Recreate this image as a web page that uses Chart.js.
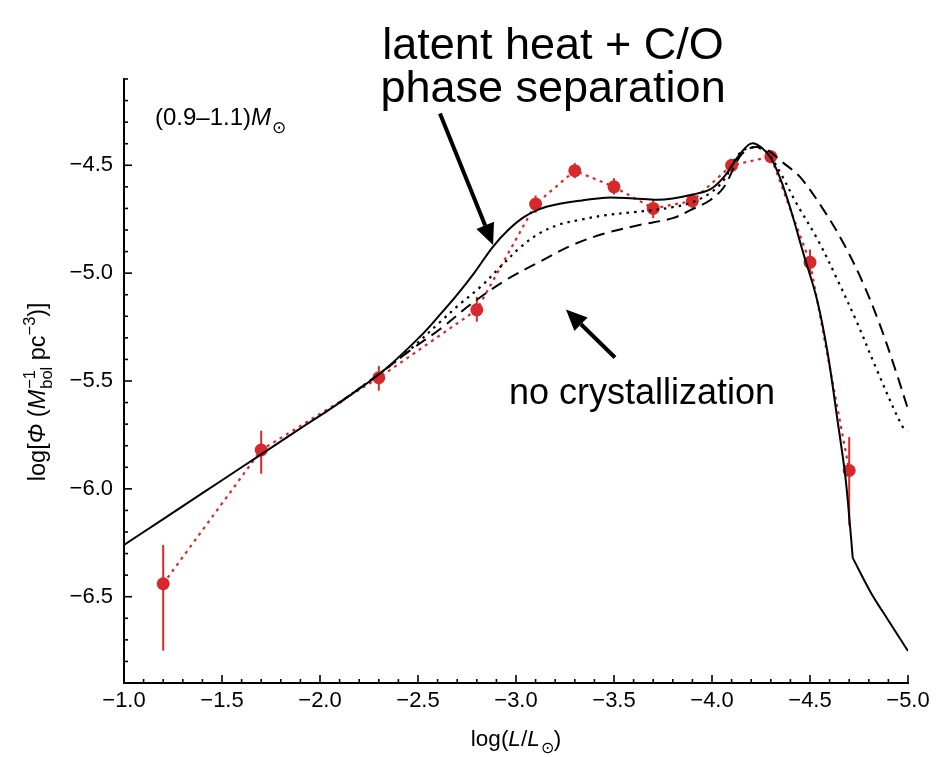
<!DOCTYPE html>
<html>
<head>
<meta charset="utf-8">
<script src="https://cdn.jsdelivr.net/npm/chart.js@4.4.0/dist/chart.umd.min.js"></script>
<style>
  html, body { margin: 0; padding: 0; background: #fff; }
  #wrap { width: 944px; height: 757px; position: relative; }
</style>
</head>
<body>
<div id="wrap"><canvas id="lf" width="944" height="757"></canvas></div>
<script>
// White-dwarf luminosity function, 0.9–1.1 Msun

// observed bins: log(L/Lsun), log Phi and the error-bar ends
const obsLogL = [-1.2, -1.7, -2.3, -2.8, -3.1, -3.3, -3.5, -3.7, -3.9, -4.1, -4.3, -4.5, -4.7];
const obsPhi  = [-6.44, -5.82, -5.485, -5.17, -4.68, -4.525, -4.60, -4.70, -4.665, -4.50, -4.46, -4.95, -5.915];
const obsLow  = [-6.75, -5.93, -5.545, -5.225, -4.72, -4.56, -4.635, -4.745, -4.70, -4.53, -4.49, -5.01, -6.17];
const obsHigh = [-6.26, -5.73, -5.43, -5.11, -4.64, -4.49, -4.56, -4.66, -4.63, -4.47, -4.43, -4.89, -5.76];

// model: latent heat + C/O phase separation (solid), up to the break
const fullLogL = [-1.0, -1.2, -1.4, -1.6, -1.7, -1.9, -2.1, -2.32, -2.51, -2.61, -2.70, -2.79, -2.88, -2.96,
                  -3.04, -3.12, -3.2, -3.33, -3.46, -3.6, -3.72, -3.8, -3.89, -3.99, -4.06, -4.13, -4.18, -4.21,
                  -4.255, -4.3, -4.35, -4.4, -4.465, -4.535, -4.59, -4.64, -4.68, -4.705, -4.718];
const fullPhi  = [-6.26, -6.14, -6.02, -5.90, -5.84, -5.72, -5.60, -5.455, -5.295, -5.195, -5.10, -4.995, -4.88, -4.80,
                  -4.74, -4.703, -4.683, -4.664, -4.650, -4.654, -4.660, -4.654, -4.638, -4.612, -4.555, -4.463, -4.410, -4.398,
                  -4.420, -4.465, -4.565, -4.700, -4.905, -5.12, -5.37, -5.68, -5.94, -6.18, -6.32];
// same model, faint end beyond the break
const fullTailLogL = [-4.718, -4.81, -4.90, -5.0];
const fullTailPhi  = [-6.32, -6.48, -6.61, -6.752];

// model: latent heat only (dotted)
const latentLogL = [-2.1, -2.32, -2.46, -2.61, -2.71, -2.82, -2.92, -3.02, -3.12, -3.22, -3.33, -3.46, -3.6, -3.7,
                    -3.8, -3.89, -3.99, -4.06, -4.14, -4.21, -4.28, -4.35, -4.43, -4.54, -4.64, -4.74, -4.84, -4.97, -5.0];
const latentPhi  = [-5.60, -5.455, -5.354, -5.229, -5.146, -5.063, -4.971, -4.882, -4.815, -4.775, -4.752, -4.731, -4.717, -4.708,
                    -4.694, -4.675, -4.629, -4.569, -4.445, -4.417, -4.44, -4.537, -4.675, -4.846, -5.031, -5.229, -5.446, -5.709, -5.73];

// model: no crystallization (dashed)
const noCrystLogL = [-2.1, -2.32, -2.46, -2.61, -2.78, -2.95, -3.12, -3.29, -3.46, -3.63, -3.8, -3.89, -3.99, -4.06,
                     -4.14, -4.19, -4.25, -4.3, -4.36, -4.45, -4.57, -4.67, -4.77, -4.86, -4.94, -5.0];
const noCrystPhi  = [-5.60, -5.455, -5.358, -5.261, -5.137, -5.031, -4.948, -4.869, -4.814, -4.777, -4.745, -4.708, -4.662, -4.602,
                     -4.463, -4.422, -4.417, -4.44, -4.486, -4.555, -4.708, -4.86, -5.045, -5.248, -5.46, -5.631];

// axis ticks
const xTickVals = [-1.0, -1.5, -2.0, -2.5, -3.0, -3.5, -4.0, -4.5, -5.0];
const yTickVals = [-4.5, -5.0, -5.5, -6.0, -6.5];

const FONT = '"Liberation Sans", Arial, Helvetica, sans-serif';
const INK = '#000000';
const RED = '#d7282b';

const pts = (xs, ys) => xs.map((v, i) => ({ x: v, y: ys[i] }));
const fmt = v => (v < 0 ? '\u2212' : '') + Math.abs(v).toFixed(1);

// text made of pieces: italic, raised, lowered, stacked sup/sub
function richWidth(ctx, runs, size) {
  let w = 0;
  for (const r of runs) {
    if (r.sup !== undefined) {
      ctx.font = `${size * 0.7}px ${FONT}`;
      w += Math.max(ctx.measureText(r.sup).width, ctx.measureText(r.sub).width) + 1;
    } else {
      ctx.font = `${r.it ? 'italic ' : ''}${size * (r.sc || 1)}px ${FONT}`;
      w += ctx.measureText(r.t).width + (r.after || 0);
    }
  }
  return w;
}
function drawRich(ctx, runs, x, y, size, align) {
  const total = richWidth(ctx, runs, size);
  let cx = align === 'center' ? x - total / 2 : x;
  ctx.textBaseline = 'alphabetic';
  ctx.textAlign = 'left';
  for (const r of runs) {
    if (r.sup !== undefined) {
      ctx.font = `${size * 0.7}px ${FONT}`;
      ctx.fillText(r.sup, cx + 1, y - size * 0.42);
      ctx.fillText(r.sub, cx + 1, y + size * 0.28);
      cx += Math.max(ctx.measureText(r.sup).width, ctx.measureText(r.sub).width) + 1;
    } else {
      ctx.font = `${r.it ? 'italic ' : ''}${size * (r.sc || 1)}px ${FONT}`;
      ctx.fillText(r.t, cx, y + (r.dy || 0) * size);
      cx += ctx.measureText(r.t).width + (r.after || 0);
    }
  }
}
function arrow(ctx, x0, y0, x1, y1) {
  const ang = Math.atan2(y1 - y0, x1 - x0);
  const headLen = 21, headHalf = 9.5;
  const bx = x1 - headLen * Math.cos(ang), by = y1 - headLen * Math.sin(ang);
  ctx.beginPath();
  ctx.moveTo(x0, y0);
  ctx.lineTo(bx, by);
  ctx.lineWidth = 4;
  ctx.strokeStyle = INK;
  ctx.stroke();
  ctx.beginPath();
  ctx.moveTo(x1, y1);
  ctx.lineTo(bx + headHalf * Math.sin(ang), by - headHalf * Math.cos(ang));
  ctx.lineTo(bx - headHalf * Math.sin(ang), by + headHalf * Math.cos(ang));
  ctx.closePath();
  ctx.fillStyle = INK;
  ctx.fill();
}

const decor = {
  id: 'decor',
  beforeDatasetsDraw(chart) {
    const { ctx, scales: { x, y } } = chart;
    ctx.save();
    ctx.strokeStyle = RED;
    ctx.lineWidth = 2;
    obsLogL.forEach((v, i) => {
      const px = x.getPixelForValue(v);
      ctx.beginPath();
      ctx.moveTo(px, y.getPixelForValue(obsLow[i]));
      ctx.lineTo(px, y.getPixelForValue(obsHigh[i]));
      ctx.stroke();
    });
    ctx.restore();
  },
  afterDraw(chart) {
    const { ctx, chartArea: a, scales: { x, y } } = chart;
    ctx.save();
    // inward tick marks, minor every 0.1
    ctx.strokeStyle = INK;
    ctx.lineWidth = 1.6;
    for (let k = 10; k <= 50; k++) {
      const px = x.getPixelForValue(-k / 10);
      const len = k % 5 === 0 ? 8 : 4;
      ctx.beginPath();
      ctx.moveTo(px, a.bottom);
      ctx.lineTo(px, a.bottom - len);
      ctx.stroke();
    }
    for (let k = 41; k <= 69; k++) {
      const py = y.getPixelForValue(-k / 10);
      const len = k % 5 === 0 ? 8 : 4;
      ctx.beginPath();
      ctx.moveTo(a.left, py);
      ctx.lineTo(a.left + len, py);
      ctx.stroke();
    }

    // arrows pointing at the curves
    arrow(ctx, x.getPixelForValue(-2.612), y.getPixelForValue(-4.26),
               x.getPixelForValue(-2.883), y.getPixelForValue(-4.869));
    arrow(ctx, x.getPixelForValue(-3.505), y.getPixelForValue(-5.391),
               x.getPixelForValue(-3.255), y.getPixelForValue(-5.169));

    ctx.fillStyle = INK;
    ctx.textAlign = 'center';
    ctx.textBaseline = 'alphabetic';
    ctx.font = `45px ${FONT}`;
    const cx = x.getPixelForValue(-3.189);
    ctx.fillText('latent heat + C/O', cx, y.getPixelForValue(-4.008));
    ctx.fillText('phase separation', cx, y.getPixelForValue(-4.205));
    ctx.font = `36px ${FONT}`;
    ctx.fillText('no crystallization', x.getPixelForValue(-3.643), y.getPixelForValue(-5.608));

    // mass range label
    drawRich(ctx, [{ t: '(0.9\u20131.1)' }, { t: 'M', it: true, after: 1 }, { t: '\u2299', sc: 0.7, dy: 0.3 }],
             x.getPixelForValue(-1.158), y.getPixelForValue(-4.315), 24, 'left');

    // axis titles
    drawRich(ctx, [{ t: 'log(' }, { t: 'L', it: true }, { t: '/' }, { t: 'L', it: true, after: 1 },
                   { t: '\u2299', sc: 0.7, dy: 0.3 }, { t: ')' }],
             (a.left + a.right) / 2, 746, 22.5, 'center');
    ctx.save();
    ctx.translate(45, y.getPixelForValue(-5.55));
    ctx.rotate(-Math.PI / 2);
    drawRich(ctx, [{ t: 'log[' }, { t: '\u03A6', it: true }, { t: ' (' }, { t: 'M', it: true },
                   { sup: '\u22121', sub: 'bol' }, { t: ' pc' }, { t: '\u22123', sc: 0.7, dy: -0.42 }, { t: ')]' }],
             0, 0, 23.5, 'center');
    ctx.restore();
    ctx.restore();
  }
};

const curve = { borderColor: INK, borderWidth: 2, pointRadius: 0, pointHoverRadius: 0, tension: 0.35 };

new Chart(document.getElementById('lf'), {
  type: 'line',
  data: {
    datasets: [
      Object.assign({ label: 'latent heat + C/O phase separation', data: pts(fullLogL, fullPhi) }, curve),
      Object.assign({ label: 'latent heat + C/O phase separation (faint end)', data: pts(fullTailLogL, fullTailPhi) }, curve),
      Object.assign({ label: 'latent heat', data: pts(latentLogL, latentPhi) }, curve,
                    { borderWidth: 2.2, borderDash: [2.5, 5] }),
      Object.assign({ label: 'no crystallization', data: pts(noCrystLogL, noCrystPhi) }, curve,
                    { borderDash: [12, 7] }),
      {
        label: 'observed',
        data: pts(obsLogL, obsPhi),
        borderColor: RED, borderWidth: 2.2, borderDash: [3, 4.5], tension: 0,
        pointRadius: 6.5, pointBackgroundColor: RED, pointBorderWidth: 0, pointHoverRadius: 6.5
      }
    ]
  },
  options: {
    responsive: false,
    animation: false,
    devicePixelRatio: 1,
    layout: { padding: { left: 0, right: 36, top: 79, bottom: 0 } },
    plugins: { legend: { display: false }, tooltip: { enabled: false } },
    scales: {
      x: {
        type: 'linear', min: -5, max: -1, reverse: true,
        afterBuildTicks: s => { s.ticks = xTickVals.map(v => ({ value: v })); },
        afterFit: s => { s.height = 74; },
        grid: { display: false, drawTicks: false },
        border: { display: true, color: INK, width: 2 },
        ticks: { callback: fmt, color: INK, padding: 5, maxRotation: 0, autoSkip: false,
                 font: { family: FONT, size: 22 } }
      },
      y: {
        type: 'linear', min: -6.9, max: -4.1,
        afterBuildTicks: s => { s.ticks = yTickVals.map(v => ({ value: v })); },
        afterFit: s => { s.width = 124; },
        grid: { display: false, drawTicks: false },
        border: { display: true, color: INK, width: 2 },
        ticks: { callback: fmt, color: INK, padding: 11, autoSkip: false,
                 font: { family: FONT, size: 22 } }
      }
    }
  },
  plugins: [decor]
});
</script>
</body>
</html>
